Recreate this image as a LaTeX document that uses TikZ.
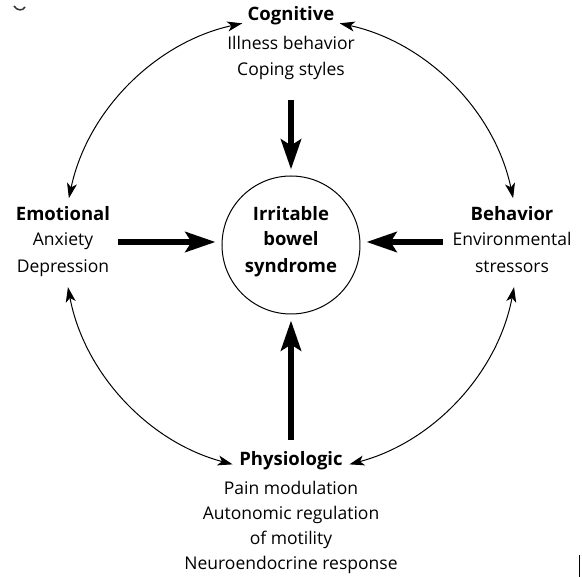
\documentclass[tikz,border=0pt]{standalone}
\usepackage{fontspec}
\setmainfont{Open Sans}
\usetikzlibrary{arrows.meta,calc}
\begin{document}
\begin{tikzpicture}[x=1pt,y=1pt,
  txt/.style={font=\fontsize{17.5}{21}\selectfont, inner sep=0pt, anchor=mid},
  hd/.style={txt, font=\fontsize{18.5}{22}\selectfont\bfseries},
  bigarrow/.style={line width=6.5pt, -{Stealth[length=30pt,width=20pt,inset=6pt]}, shorten >=6pt},
  tipthin/.tip={Stealth[length=15pt,width=10pt,inset=4pt]},
  link/.style={line width=1pt, tipthin-tipthin}]
\useasboundingbox (-291,-332) rectangle (291,245);

% central circle
\node[draw, circle, line width=1pt, minimum size=138pt, inner sep=0pt] (ibs) at (0,0) {};
\node[hd] (ibs1) at (0,27) {Irritable};
\node[hd] (ibs2) at (0,2) {bowel};
\node[hd] (ibs3) at (0,-25) {syndrome};

% Cognitive
\node[hd]  (cog)  at (0,227) {Cognitive};
\node[txt] (cogA) at (0,198) {Illness behavior};
\node[txt] (cogB) at (0,172) {Coping styles};

% Emotional
\node[hd]  (emo)  at (-228,27) {Emotional};
\node[txt] (emoA) at (-228,2) {Anxiety};
\node[txt] (emoB) at (-228,-25) {Depression};

% Behavior
\node[hd]  (beh)  at (221,27) {Behavior};
\node[txt] (behA) at (221,2) {Environmental};
\node[txt] (behB) at (221,-25) {stressors};

% Physiologic
\node[hd]  (phy)  at (0,-218) {Physiologic};
\node[txt] (phyA) at (0,-247) {Pain modulation};
\node[txt] (phyB) at (0,-272) {Autonomic regulation};
\node[txt] (phyC) at (0,-297) {of motility};
\node[txt] (phyD) at (0,-322) {Neuroendocrine response};

% tails of the thick arrows
\coordinate (tTop) at (0,145);
\coordinate (tLeft) at (-173,3);
\coordinate (tRight) at (152,3);
\coordinate (tBot) at (0,-195);
\draw[bigarrow] (tTop) -- (ibs);
\draw[bigarrow] (tLeft) -- (ibs.west |- tLeft);
\draw[bigarrow] (tRight) -- (ibs.east |- tRight);
\draw[bigarrow] (tBot) -- (ibs);

% ring of double arrows
\coordinate (rCogL) at ($(ibs.center)+(102.4:227)$);
\coordinate (rEmoT) at ($(ibs.center)+(168.1:227)$);
\coordinate (rEmoB) at ($(ibs.center)+(190.7:227)$);
\coordinate (rPhyL) at ($(ibs.center)+(255.1:227)$);
\coordinate (rPhyR) at ($(ibs.center)+(284.9:227)$);
\coordinate (rBehB) at ($(ibs.center)+(349.3:227)$);
\coordinate (rBehT) at ($(ibs.center)+(11.9:227)$);
\coordinate (rCogR) at ($(ibs.center)+(77.6:227)$);
\draw[link] (rCogL) arc[start angle=102.4, end angle=168.1, radius=227];
\draw[link] (rEmoB) arc[start angle=190.7, end angle=255.1, radius=227];
\draw[link] (rPhyR) arc[start angle=284.9, end angle=349.3, radius=227];
\draw[link] (rBehT) arc[start angle=11.9, end angle=77.6, radius=227];

% page-edge fragments
\draw[line width=1.5pt, black!80] (-277,239) .. controls (-274,234) and (-268,234) .. (-266,238);
\draw[line width=1pt] (289,-310) -- (289,-332);
\end{tikzpicture}
\end{document}
